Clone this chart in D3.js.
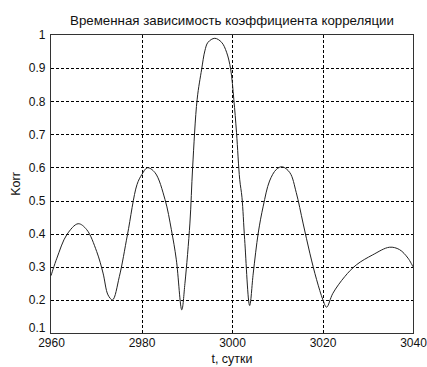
<!DOCTYPE html>
<html><head><meta charset="utf-8">
<script src="https://cdn.jsdelivr.net/npm/d3@7"></script>
<style>body{margin:0;background:#fff}svg{display:block}text{font-family:"Liberation Sans",Arial,sans-serif;fill:#111}</style>
</head><body><div id="chart"></div>
<script>
const title = "Временная зависимость коэффициента корреляции";
const xLabel = "t, сутки";
const yLabel = "Korr";
const xTicks = [2960, 2980, 3000, 3020, 3040];
const yTicks = [0.1, 0.2, 0.3, 0.4, 0.5, 0.6, 0.7, 0.8, 0.9, 1];
const tDays = [2960, 2961.3, 2963.5, 2966.0, 2967.9, 2970.1, 2971.5, 2972.6, 2973.6, 2975.1, 2976.9, 2979.0, 2980.1, 2981.3, 2983.0, 2985.2, 2986.6, 2987.7, 2988.9, 2989.6, 2990.7, 2991.3, 2992.3, 2993.3, 2994.0, 2994.7, 2996.2, 2997.7, 2998.8, 2999.7, 3000.4, 3001.0, 3001.7, 3002.2, 3002.8, 3003.9, 3004.7, 3005.8, 3006.9, 3008.3, 3009.8, 3011.1, 3012.8, 3014.2, 3015.7, 3017.2, 3018.7, 3020.1, 3020.9, 3022.3, 3024.9, 3027.5, 3031.1, 3034.8, 3037.0, 3038.9, 3040];
const korr = [0.273, 0.326, 0.397, 0.430, 0.412, 0.346, 0.281, 0.215, 0.200, 0.270, 0.397, 0.548, 0.579, 0.599, 0.584, 0.503, 0.412, 0.321, 0.170, 0.250, 0.432, 0.600, 0.806, 0.897, 0.952, 0.978, 0.990, 0.978, 0.948, 0.897, 0.806, 0.705, 0.564, 0.510, 0.382, 0.183, 0.281, 0.402, 0.483, 0.559, 0.594, 0.602, 0.584, 0.524, 0.432, 0.341, 0.261, 0.200, 0.178, 0.220, 0.270, 0.306, 0.336, 0.359, 0.352, 0.326, 0.300];

const W = 427, H = 367;
const m = {left: 51, right: 14, top: 35, bottom: 34};
const svg = d3.select("#chart").append("svg").attr("width", W).attr("height", H);
const x = d3.scaleLinear().domain([2960, 3040]).range([m.left, W - m.right]);
const y = d3.scaleLinear().domain([0.1, 1]).range([H - m.bottom, m.top]);

// grid
const g = svg.append("g");
g.selectAll(".gx").data(xTicks.slice(1, -1)).join("line")
  .attr("x1", d => Math.round(x(d)) + 0.5).attr("x2", d => Math.round(x(d)) + 0.5)
  .attr("y1", m.top).attr("y2", H - m.bottom)
  .attr("stroke", "#000").attr("stroke-width", 1).attr("stroke-dasharray", "3,2");
g.selectAll(".gy").data(yTicks.slice(1, -1)).join("line")
  .attr("y1", d => Math.round(y(d)) + 0.5).attr("y2", d => Math.round(y(d)) + 0.5)
  .attr("x1", m.left).attr("x2", W - m.right)
  .attr("stroke", "#000").attr("stroke-width", 1).attr("stroke-dasharray", "3,2");

// axes
const xAxis = svg.append("g").attr("transform", `translate(0,${H - m.bottom + 0.5})`)
  .call(d3.axisBottom(x).tickValues(xTicks).tickSize(0).tickPadding(5).tickFormat(d3.format("d")));
const yAxis = svg.append("g").attr("transform", `translate(${m.left - 0.5},0)`)
  .call(d3.axisLeft(y).tickValues(yTicks).tickSize(0).tickPadding(5).tickFormat(d => d === 1 ? "1" : d3.format(".1f")(d)));
[xAxis, yAxis].forEach(a => {
  a.select(".domain").remove();
  a.selectAll("text").attr("font-size", 12).attr("fill", "#222").style("font-family", '"Liberation Sans",Arial,sans-serif');
});
yAxis.selectAll("text").attr("dy", "0.32em");
yAxis.selectAll(".tick").filter(d => d === 0.1).select("text").attr("dy", "-0.1em");

// box
svg.append("rect").attr("x", m.left - 0.5).attr("y", m.top - 0.5)
  .attr("width", W - m.right - m.left + 1).attr("height", H - m.bottom - m.top + 1)
  .attr("fill", "none").attr("stroke", "#333").attr("stroke-width", 1);

// line
const pts = tDays.map((t, i) => [t, korr[i]]);
svg.append("path").datum(pts)
  .attr("d", d3.line().x(d => x(d[0])).y(d => y(d[1])).curve(d3.curveCatmullRom.alpha(0.5)))
  .attr("fill", "none").attr("stroke", "#222").attr("stroke-width", 1);

// labels
svg.append("text").attr("x", (m.left + W - m.right) / 2).attr("y", 25)
  .attr("text-anchor", "middle").attr("font-size", 13.3).attr("fill", "#222").text(title);
svg.append("text").attr("x", (m.left + W - m.right) / 2).attr("y", 363)
  .attr("text-anchor", "middle").attr("font-size", 12.5).attr("fill", "#222").text(xLabel);
svg.append("text").attr("transform", `translate(20,${(m.top + H - m.bottom) / 2}) rotate(-90)`)
  .attr("text-anchor", "middle").attr("font-size", 12.5).attr("fill", "#222").text(yLabel);
</script></body></html>
